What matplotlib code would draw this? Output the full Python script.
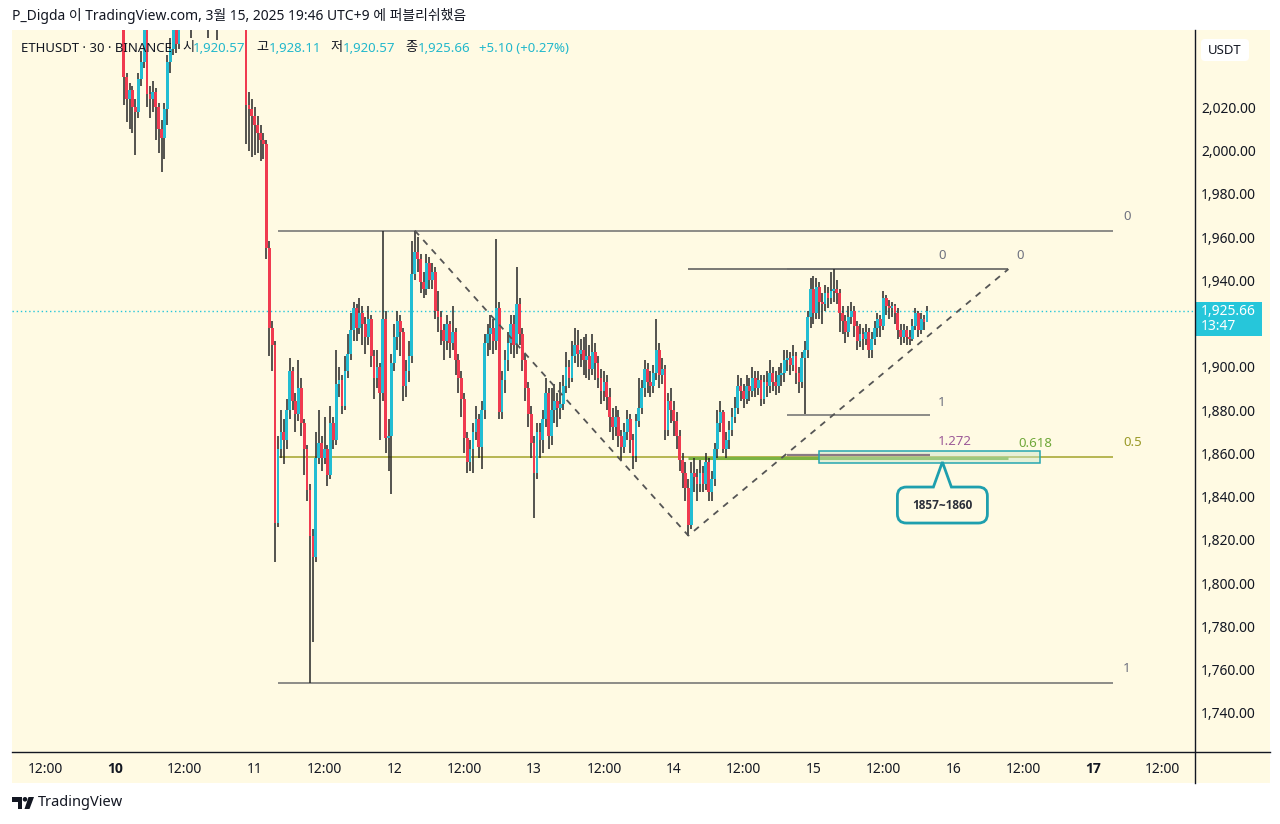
import matplotlib
matplotlib.use("Agg")
import matplotlib.pyplot as plt
import matplotlib.patches as mpatches
import matplotlib.transforms as mtransforms
from matplotlib.lines import Line2D
from matplotlib.path import Path

plt.rcParams["font.family"] = ["Noto Sans", "Noto Sans CJK KR", "DejaVu Sans"]

W, H = 1280, 824

# ETHUSDT 30m candles, starting 2025-03-10 00:00 (UTC+9), one block per day
first_open = 2078
close_10 = [2084, 2076, 2070, 2034, 2024, 2028, 2020, 2018, 2033, 2041, 2058, 2026,
            2024, 2027, 2020, 2010, 2006, 2019, 2041, 2047, 2058, 2049, 2062, 2070,
            2068, 2072, 2066, 2074, 2079, 2076, 2082, 2074, 2067, 2071, 2068, 2064,
            2070, 2076, 2073, 2069, 2066, 2071, 2068, 2063, 2064, 2021, 2019, 2016]
high_10 = [2090, 2088, 2080, 2072, 2036, 2031, 2030, 2024, 2036, 2046, 2066, 2060,
           2030, 2032, 2029, 2022, 2014, 2022, 2044, 2052, 2064, 2061, 2066, 2076,
           2078, 2080, 2075, 2082, 2086, 2084, 2090, 2084, 2078, 2077, 2076, 2072,
           2076, 2082, 2080, 2077, 2074, 2076, 2074, 2071, 2070, 2066, 2027, 2024]
low_10 = [2072, 2068, 2060, 2021, 2013, 2010, 2008, 1998, 2015, 2030, 2038, 2020,
          2015, 2018, 2005, 1999, 1990, 1996, 2012, 2036, 2044, 2045, 2047, 2058,
          2060, 2062, 2052, 2064, 2070, 2068, 2072, 2066, 2052, 2060, 2061, 2051,
          2058, 2066, 2066, 2062, 2059, 2062, 2060, 2057, 2057, 2003, 2000, 1997]

close_11 = [2012, 2008, 2005, 2003, 1955, 1918, 1910, 1828, 1862, 1870, 1866, 1880,
            1898, 1884, 1878, 1890, 1874, 1862, 1843, 1822, 1812, 1858, 1865, 1858,
            1862, 1850, 1874, 1866, 1892, 1894, 1882, 1898, 1906, 1917, 1927, 1918,
            1925, 1920, 1914, 1922, 1905, 1895, 1900, 1888, 1922, 1867, 1868, 1902]
high_11 = [2020, 2016, 2012, 2008, 2005, 1958, 1921, 1912, 1868, 1880, 1876, 1885,
           1904, 1900, 1888, 1903, 1895, 1876, 1864, 1846, 1825, 1870, 1880, 1868,
           1877, 1864, 1882, 1877, 1908, 1900, 1896, 1905, 1915, 1925, 1930, 1929,
           1932, 1928, 1923, 1928, 1924, 1908, 1908, 1902, 1963, 1926, 1876, 1906]
low_11 = [1998, 1999, 1995, 1996, 1950, 1905, 1898, 1810, 1826, 1858, 1855, 1862,
          1876, 1880, 1870, 1875, 1868, 1850, 1838, 1754, 1773, 1810, 1855, 1852,
          1855, 1845, 1848, 1862, 1864, 1886, 1878, 1880, 1895, 1903, 1912, 1912,
          1915, 1910, 1906, 1910, 1900, 1885, 1890, 1866, 1884, 1860, 1852, 1841]

close_12 = [1914, 1921, 1916, 1891, 1898, 1905, 1943, 1953, 1950, 1939, 1936, 1948,
            1940, 1944, 1926, 1923, 1917, 1912, 1920, 1911, 1916, 1903, 1895, 1885,
            1867, 1856, 1862, 1870, 1876, 1863, 1880, 1911, 1915, 1918, 1912, 1927,
            1879, 1894, 1903, 1911, 1920, 1910, 1929, 1915, 1903, 1890, 1878, 1865]
high_12 = [1920, 1926, 1924, 1918, 1903, 1912, 1958, 1963, 1960, 1952, 1944, 1952,
           1951, 1948, 1946, 1935, 1926, 1920, 1924, 1921, 1928, 1918, 1906, 1898,
           1888, 1870, 1866, 1874, 1882, 1878, 1884, 1915, 1920, 1924, 1922, 1959,
           1930, 1898, 1908, 1916, 1924, 1924, 1946, 1932, 1918, 1906, 1893, 1882]
low_12 = [1898, 1908, 1905, 1884, 1886, 1893, 1902, 1940, 1944, 1934, 1932, 1933,
          1936, 1936, 1922, 1916, 1910, 1903, 1908, 1904, 1908, 1896, 1888, 1877,
          1860, 1851, 1852, 1851, 1866, 1858, 1853, 1876, 1905, 1908, 1906, 1908,
          1876, 1876, 1888, 1898, 1906, 1904, 1906, 1910, 1898, 1884, 1872, 1858]

close_13 = [1851, 1870, 1866, 1876, 1888, 1868, 1880, 1884, 1881, 1883, 1891, 1900,
            1895, 1905, 1910, 1906, 1908, 1903, 1905, 1899, 1907, 1902, 1895, 1889,
            1893, 1886, 1877, 1872, 1877, 1868, 1863, 1870, 1876, 1866, 1859, 1875,
            1881, 1890, 1899, 1893, 1891, 1897, 1908, 1896, 1899, 1871, 1884, 1880]
high_13 = [1868, 1874, 1874, 1880, 1895, 1890, 1890, 1892, 1888, 1893, 1896, 1907,
           1903, 1912, 1918, 1917, 1913, 1914, 1915, 1910, 1915, 1911, 1905, 1899,
           1898, 1896, 1890, 1881, 1882, 1880, 1871, 1874, 1880, 1878, 1869, 1878,
           1895, 1894, 1903, 1902, 1898, 1901, 1922, 1911, 1904, 1901, 1888, 1890]
low_13 = [1830, 1848, 1858, 1860, 1872, 1862, 1864, 1874, 1872, 1876, 1880, 1888,
          1890, 1893, 1902, 1900, 1900, 1896, 1895, 1894, 1896, 1894, 1890, 1883,
          1884, 1880, 1870, 1866, 1868, 1863, 1857, 1860, 1866, 1860, 1853, 1856,
          1872, 1878, 1886, 1888, 1886, 1888, 1894, 1890, 1892, 1866, 1868, 1874]

close_14 = [1875, 1868, 1857, 1851, 1844, 1827, 1851, 1849, 1846, 1851, 1846, 1856,
            1842, 1848, 1862, 1874, 1879, 1862, 1866, 1871, 1877, 1881, 1891, 1889,
            1885, 1891, 1889, 1895, 1890, 1894, 1885, 1893, 1891, 1897, 1893, 1891,
            1896, 1897, 1903, 1904, 1901, 1905, 1897, 1893, 1904, 1908, 1923, 1936]
high_14 = [1884, 1879, 1871, 1860, 1856, 1848, 1856, 1858, 1853, 1857, 1854, 1860,
           1858, 1852, 1865, 1880, 1884, 1880, 1870, 1875, 1881, 1886, 1896, 1895,
           1892, 1896, 1895, 1900, 1898, 1898, 1896, 1896, 1898, 1903, 1900, 1898,
           1900, 1902, 1908, 1908, 1907, 1910, 1907, 1900, 1907, 1912, 1926, 1941]
low_14 = [1868, 1862, 1852, 1844, 1838, 1822, 1825, 1842, 1838, 1842, 1842, 1843,
          1838, 1838, 1845, 1858, 1870, 1860, 1858, 1862, 1868, 1874, 1878, 1884,
          1881, 1883, 1884, 1886, 1886, 1887, 1882, 1883, 1886, 1888, 1889, 1887,
          1888, 1891, 1893, 1898, 1896, 1898, 1892, 1888, 1890, 1878, 1904, 1918]

close_15 = [1925, 1937, 1930, 1929, 1934, 1932, 1935, 1936, 1934, 1925, 1921, 1916,
            1923, 1926, 1919, 1912, 1915, 1913, 1916, 1908, 1913, 1918, 1922, 1919,
            1932, 1928, 1927, 1928, 1925, 1917, 1914, 1917, 1914, 1913, 1919, 1925,
            1917, 1922, 1920.57, 1925.66]
high_15 = [1942, 1941, 1939, 1934, 1938, 1937, 1944, 1945, 1940, 1936, 1928, 1924,
           1928, 1930, 1928, 1921, 1920, 1918, 1920, 1918, 1916, 1921, 1925, 1924,
           1935, 1933, 1931, 1930, 1929, 1927, 1920, 1920, 1919, 1917, 1922, 1927,
           1926, 1925, 1924, 1928.11]
low_15 = [1920, 1922, 1922, 1920, 1926, 1927, 1929, 1930, 1929, 1916, 1915, 1911,
          1914, 1920, 1914, 1908, 1909, 1908, 1910, 1904, 1904, 1910, 1914, 1914,
          1917, 1924, 1922, 1923, 1920, 1913, 1910, 1911, 1910, 1910, 1912, 1917,
          1914, 1915, 1917, 1920.57]

closes = close_10 + close_11 + close_12 + close_13 + close_14 + close_15
highs = high_10 + high_11 + high_12 + high_13 + high_14 + high_15
lows = low_10 + low_11 + low_12 + low_13 + low_14 + low_15
opens = [first_open] + closes[:-1]
last_price = closes[-1]

# time axis (candle index 0 = Mar 10 00:00, 48 candles per day)
time_ticks = list(range(-24, 361, 24))
time_labels = ["12:00", "10", "12:00", "11", "12:00", "12", "12:00", "13", "12:00",
               "14", "12:00", "15", "12:00", "16", "12:00", "17", "12:00"]
price_ticks = [1740, 1760, 1780, 1800, 1820, 1840, 1860, 1880, 1900,
               1940, 1960, 1980, 2000, 2020]

# drawings
big_fib = {"x0": 56, "x1": 343, "p0": 1963.0, "p1": 1754.0}
ext_pts = [(103, 1963.0), (197, 1822.0), (307, 1945.2)]
retr_fib = {"x0": 231, "x1": 280, "p0": 1945.2, "p1": 1877.7}
zone = {"x0": 242, "x1": 318, "lo": 1855.7, "hi": 1861.2}
callout_tip = (284.3, 1856.0)

UP, DOWN, WICK = "#22bdd3", "#f03a50", "#262626"
BG = "#fffae3"
INK = "#131722"
BOLD_FONT = ["Open Sans", "DejaVu Sans"]

fig = plt.figure(figsize=(W / 100, H / 100), dpi=100, facecolor="white")
px = mtransforms.IdentityTransform()

# cream panel behind chart and scales
fig.add_artist(mpatches.Rectangle((12, H - 783), 1258, 753, transform=px,
                                  facecolor=BG, edgecolor="none", zorder=-5))

ax = fig.add_axes([12 / W, (H - 752) / H, 1183 / W, 722 / H])
ax.set_facecolor("none")
ax.set_xlim(-35.4, 371.1)
ax.set_ylim(1721.97, 2055.7)
for s in ax.spines.values():
    s.set_visible(False)

# candles
idx = list(range(len(closes)))
ax.vlines(idx, lows, highs, color=WICK, lw=1.1, zorder=3)
bottoms = [min(o, c) for o, c in zip(opens, closes)]
heights = [max(abs(c - o), 0.4) for o, c in zip(opens, closes)]
colors = [UP if c >= o else DOWN for o, c in zip(opens, closes)]
ax.bar(idx, heights, bottom=bottoms, width=0.95, color=colors, linewidth=0, zorder=4)

# current price dotted line
ax.axhline(last_price, color="#26c6da", lw=1.0, ls=(0, (1, 2)), zorder=2)

# big fib retracement: 0 / 0.5 / 1
GRAY_LINE = "#6e6e6e"
bx0, bx1 = big_fib["x0"], big_fib["x1"]
half = big_fib["p0"] + 0.5 * (big_fib["p1"] - big_fib["p0"])
ax.hlines([big_fib["p0"], big_fib["p1"]], bx0, bx1, color=GRAY_LINE, lw=1.1, zorder=2)
ax.hlines(half, bx0, bx1, color="#a3a32a", lw=1.1, zorder=2)

# trend based fib extension (0 and 0.618)
(ax_, ay_), (bx_, by_), (cx_, cy_) = ext_pts
ext618 = cy_ + 0.618 * (by_ - ay_)
ax.plot([ax_, bx_, cx_], [ay_, by_, cy_], color="#555555", lw=1.3,
        ls=(0, (3.5, 3.5)), zorder=5)
ax.hlines(cy_, bx_, cx_, color="#555555", lw=1.1, zorder=2)
ax.hlines(ext618, bx_, cx_, color="#7cb342", lw=2.2, zorder=2)

# fib retracement 0 / 1 / 1.272
rx0, rx1 = retr_fib["x0"], retr_fib["x1"]
r1272 = retr_fib["p0"] + 1.272 * (retr_fib["p1"] - retr_fib["p0"])
ax.hlines([retr_fib["p0"], retr_fib["p1"]], rx0, rx1, color=GRAY_LINE, lw=1.1, zorder=2)
ax.hlines(r1272, rx0, rx1, color="#8a7a84", lw=1.6, zorder=3)

# zone box
ax.add_patch(mpatches.Rectangle((zone["x0"], zone["lo"]), zone["x1"] - zone["x0"],
                                zone["hi"] - zone["lo"], facecolor="#c8e6c9",
                                alpha=0.45, edgecolor="none", zorder=2))
ax.add_patch(mpatches.Rectangle((zone["x0"], zone["lo"]), zone["x1"] - zone["x0"],
                                zone["hi"] - zone["lo"], facecolor="none",
                                edgecolor="#26a6b0", lw=1.1, zorder=6))


def level_label(text, x, y, color, dx=10, dy=14):
    ax.annotate(text, (x, y), xytext=(dx * 0.72, dy * 0.72), textcoords="offset points",
                ha="left", va="center", fontsize=9.5, color=color, zorder=7)


level_label("0", bx1, big_fib["p0"], "#6f7280")
level_label("1", bx1, big_fib["p1"], "#6f7280")
level_label("0.5", bx1, half, "#9a9a28")
level_label("0", rx1, retr_fib["p0"], "#6f7280", dx=8)
level_label("1", rx1, retr_fib["p1"], "#6f7280", dx=8, dy=13)
level_label("1.272", rx1, r1272, "#9c5a98", dx=8, dy=13)
level_label("0", cx_, cy_, "#6f7280", dx=8)
level_label("0.618", cx_, ext618, "#6fa83a", dx=10)

# callout "1857~1860" (shape in pixel offsets from the tip)
tip_tr = px + mtransforms.ScaledTranslation(callout_tip[0], callout_tip[1], ax.transData)
L, R, T, B, r, n = -45, 45, -25, -61, 9, 9
verts = [(-n, T), (0, 0), (n, T), (R - r, T), (R, T), (R, T - r), (R, B + r), (R, B),
         (R - r, B), (L + r, B), (L, B), (L, B + r), (L, T - r), (L, T), (L + r, T),
         (-n, T)]
codes = [Path.MOVETO, Path.LINETO, Path.LINETO, Path.LINETO, Path.CURVE3, Path.CURVE3,
         Path.LINETO, Path.CURVE3, Path.CURVE3, Path.LINETO, Path.CURVE3, Path.CURVE3,
         Path.LINETO, Path.CURVE3, Path.CURVE3, Path.CLOSEPOLY]
ax.add_artist(mpatches.PathPatch(Path(verts, codes), transform=tip_tr, facecolor=BG,
                                 edgecolor="#1e9fae", lw=2.0, zorder=8, clip_on=False))
ax.annotate("1857~1860", callout_tip, xytext=(0, -43 * 0.72), textcoords="offset points",
            ha="center", va="center", fontsize=8.5, fontweight="bold", family=BOLD_FONT,
            color="#2a2e39", zorder=9)

# axes ticks
ax.set_xticks(time_ticks)
ax.set_xticklabels(time_labels)
ax.tick_params(axis="x", length=0, pad=7, labelsize=10, labelcolor=INK)
for t in ax.get_xticklabels():
    if t.get_text() in ("10", "17"):
        t.set_fontweight("bold")
        t.set_family(BOLD_FONT)
ax.yaxis.tick_right()
ax.set_yticks(price_ticks)
ax.set_yticklabels([f"{p:,.2f}" for p in price_ticks])
ax.tick_params(axis="y", length=0, pad=4.5, labelsize=10, labelcolor=INK)

# separators of the price and time scales
fig.add_artist(Line2D([1195, 1195], [H - 30, H - 783], transform=px, color=INK, lw=1))
fig.add_artist(Line2D([12, 1270], [H - 752, H - 752], transform=px, color=INK, lw=1))

# current price tag on the price scale
tag_tr = px + mtransforms.ScaledTranslation(
    1.0, last_price, mtransforms.blended_transform_factory(ax.transAxes, ax.transData))
ax.add_artist(mpatches.Rectangle((0, -24.6), 67, 34.2, transform=tag_tr,
                                 facecolor="#26c6da", edgecolor="none", zorder=10,
                                 clip_on=False))
ax.text(6, 0, f"{last_price:,.2f}", transform=tag_tr, ha="left", va="center",
        fontsize=10, color="white", zorder=11, clip_on=False)
ax.text(6, -15.5, "13:47", transform=tag_tr, ha="left", va="center",
        fontsize=10, color="white", zorder=11, clip_on=False)

# USDT box
fig.add_artist(mpatches.FancyBboxPatch((1201, H - 61), 48, 22, transform=px,
                                       boxstyle="round,pad=0,rounding_size=4",
                                       facecolor="white", edgecolor="none", zorder=5))
fig.text(1225 / W, 1 - 50 / H, "USDT", ha="center", va="center", fontsize=9.5,
         color=INK, zorder=6)

# header and legend
fig.text(12 / W, 1 - 16 / H, "P_Digda 이 TradingView.com, 3월 15, 2025 19:46 UTC+9 에 퍼블리쉬했음",
         ha="left", va="center", fontsize=10, color=INK)
TEAL = "#22b8cc"
legend = [("ETHUSDT · 30 · BINANCE", 21, INK), ("시", 182, INK), ("1,920.57", 193, TEAL),
          ("고", 256, INK), ("1,928.11", 269, TEAL), ("저", 330, INK),
          ("1,920.57", 343, TEAL), ("종", 405, INK), ("1,925.66", 418, TEAL),
          ("+5.10 (+0.27%)", 479, TEAL)]
for text, x, col in legend:
    fig.text(x / W, 1 - 48 / H, text, ha="left", va="center", fontsize=9.5, color=col)

# TradingView watermark
logo = [mpatches.Polygon([(12, H - 797), (22, H - 797), (22, H - 809), (17.5, H - 809),
                          (17.5, H - 801.5), (12, H - 801.5)], closed=True),
        mpatches.Circle((25, H - 799.3), 2.3),
        mpatches.Polygon([(28.5, H - 797), (34, H - 797), (29.5, H - 809), (24.5, H - 809)],
                         closed=True)]
for p in logo:
    p.set_transform(px)
    p.set_facecolor(INK)
    p.set_edgecolor("none")
    fig.add_artist(p)
fig.text(38 / W, 1 - 803 / H, "TradingView", ha="left", va="center", fontsize=10.5,
         color=INK)

fig.savefig("out.png", dpi=100, facecolor="white")
